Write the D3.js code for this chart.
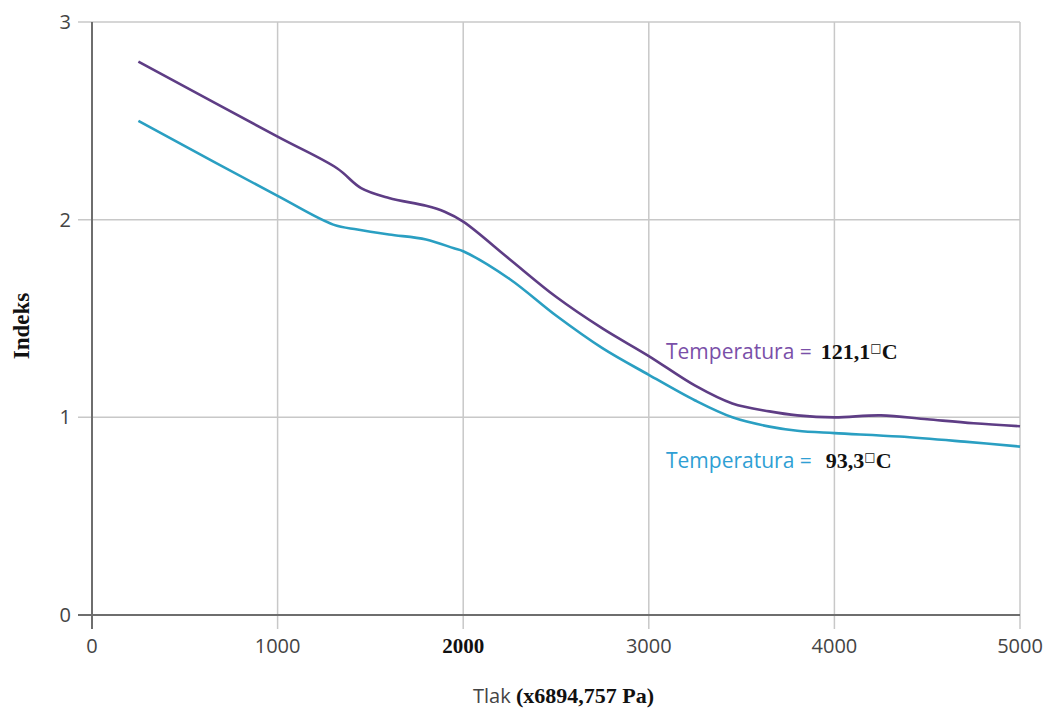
<!DOCTYPE html>
<html>
<head>
<meta charset="utf-8">
<script src="https://cdn.jsdelivr.net/npm/d3@7"></script>
<style>
	body { margin: 0; background: #fff; }
	svg { display: block; }
</style>
</head>
<body>
<script>
// data
var pressureHot = [250, 1000, 1320, 1450, 1600, 1800, 1900, 2000, 2250, 2500, 2750, 3000, 3250, 3450, 3650, 3800, 4000, 4250, 4500, 4750, 5000];
var indexHot = [2.80, 2.42, 2.26, 2.16, 2.11, 2.07, 2.04, 1.99, 1.80, 1.61, 1.45, 1.31, 1.16, 1.07, 1.03, 1.01, 1.00, 1.01, 0.99, 0.97, 0.955];

var pressureWarm = [250, 1000, 1300, 1430, 1600, 1800, 1950, 2000, 2250, 2500, 2750, 3000, 3250, 3450, 3650, 3800, 4000, 4350, 4700, 5000];
var indexWarm = [2.50, 2.12, 1.975, 1.95, 1.925, 1.90, 1.855, 1.84, 1.70, 1.515, 1.35, 1.215, 1.085, 1.00, 0.953, 0.932, 0.92, 0.903, 0.877, 0.852];

var xTicks = [0, 1000, 2000, 3000, 4000, 5000];
var yTicks = [0, 1, 2, 3];

// doc dimensions
var width = 1046;
var height = 711;
var plotLeft = 92, plotRight = 1020, plotTop = 22, plotBottom = 615;
var tickOut = 14;

var svg = d3.select("body").append("svg")
	.attr("width", width)
	.attr("height", height);

var x = d3.scaleLinear().domain([0, 5000]).range([plotLeft, plotRight]);
var y = d3.scaleLinear().domain([0, 3]).range([plotBottom, plotTop]);

// grid (extends a little past the axes)
svg.selectAll("line.vgrid")
	.data(xTicks.slice(1))
	.enter()
	.append("line")
	.attr("class", "vgrid")
	.attr("x1", function(d) {return x(d);})
	.attr("x2", function(d) {return x(d);})
	.attr("y1", plotTop)
	.attr("y2", plotBottom + tickOut)
	.attr("stroke", "#c8c8c8")
	.attr("stroke-width", 1.5);

svg.selectAll("line.hgrid")
	.data(yTicks.slice(1))
	.enter()
	.append("line")
	.attr("class", "hgrid")
	.attr("x1", plotLeft - tickOut)
	.attr("x2", plotRight)
	.attr("y1", function(d) {return y(d);})
	.attr("y2", function(d) {return y(d);})
	.attr("stroke", "#c8c8c8")
	.attr("stroke-width", 1.5);

// axis lines
svg.append("line")
	.attr("x1", plotLeft - tickOut).attr("x2", plotRight)
	.attr("y1", y(0)).attr("y2", y(0))
	.attr("stroke", "#6e6e6e").attr("stroke-width", 2);
svg.append("line")
	.attr("x1", x(0)).attr("x2", x(0))
	.attr("y1", plotTop).attr("y2", plotBottom + tickOut)
	.attr("stroke", "#6e6e6e").attr("stroke-width", 2);

// tick labels
svg.selectAll("text.xtick")
	.data(xTicks)
	.enter()
	.append("text")
	.attr("class", "xtick")
	.attr("x", function(d) {return x(d);})
	.attr("y", 653)
	.attr("text-anchor", "middle")
	.attr("font-family", function(d) {return d == 2000 ? "Liberation Serif" : "Open Sans";})
	.attr("font-weight", function(d) {return d == 2000 ? "bold" : "normal";})
	.attr("font-size", function(d) {return d == 2000 ? 21 : 20;})
	.attr("fill", function(d) {return d == 2000 ? "#111" : "#444";})
	.text(function(d) {return d;});

svg.selectAll("text.ytick")
	.data(yTicks)
	.enter()
	.append("text")
	.attr("class", "ytick")
	.attr("x", 71)
	.attr("y", function(d) {return y(d);})
	.attr("dy", "0.35em")
	.attr("text-anchor", "end")
	.attr("font-family", "Open Sans")
	.attr("font-size", 20)
	.attr("fill", "#444")
	.text(function(d) {return d;});

// axis titles
svg.append("text")
	.attr("transform", "translate(29,326) rotate(-90)")
	.attr("text-anchor", "middle")
	.attr("font-family", "Liberation Serif")
	.attr("font-weight", "bold")
	.attr("font-size", 23)
	.attr("fill", "#111")
	.text("Indeks");

var xTitle = svg.append("text")
	.attr("x", 473)
	.attr("y", 703)
	.attr("fill", "#444");
xTitle.append("tspan")
	.attr("font-family", "Open Sans")
	.attr("font-size", 20)
	.text("Tlak ");
xTitle.append("tspan")
	.attr("font-family", "Liberation Serif")
	.attr("font-weight", "bold")
	.attr("font-size", 22)
	.attr("fill", "#111")
	.text("(x6894,757 Pa)");

// curves
var line = d3.line()
	.x(function(d) {return x(d[0]);})
	.y(function(d) {return y(d[1]);})
	.curve(d3.curveCatmullRom.alpha(0.5));

svg.append("path")
	.datum(d3.zip(pressureWarm, indexWarm))
	.attr("d", line)
	.attr("fill", "none")
	.attr("stroke", "#2a9fc2")
	.attr("stroke-width", 2.6);

svg.append("path")
	.datum(d3.zip(pressureHot, indexHot))
	.attr("d", line)
	.attr("fill", "none")
	.attr("stroke", "#5e3d85")
	.attr("stroke-width", 2.6);

// series labels
function seriesLabel(px, py, color, value, gap) {
	var t = svg.append("text").attr("x", px).attr("y", py);
	t.append("tspan")
		.attr("font-family", "Open Sans")
		.attr("font-size", 21)
		.attr("fill", color)
		.text("Temperatura =");
	t.append("tspan")
		.attr("dx", gap)
		.attr("font-family", "Liberation Serif")
		.attr("font-weight", "bold")
		.attr("font-size", 22)
		.attr("fill", "#111")
		.text(value);
	t.append("tspan")
		.attr("dy", -7)
		.attr("font-family", "DejaVu Sans")
		.attr("font-size", 12)
		.attr("fill", "#111")
		.text("\u25A1");
	t.append("tspan")
		.attr("dy", 7)
		.attr("font-family", "Liberation Serif")
		.attr("font-weight", "bold")
		.attr("font-size", 22)
		.attr("fill", "#111")
		.text("C");
}

seriesLabel(666, 359, "#7a4fa8", "121,1", 9);
seriesLabel(666, 468, "#2f9fd4", "93,3", 14);
</script>
</body>
</html>
